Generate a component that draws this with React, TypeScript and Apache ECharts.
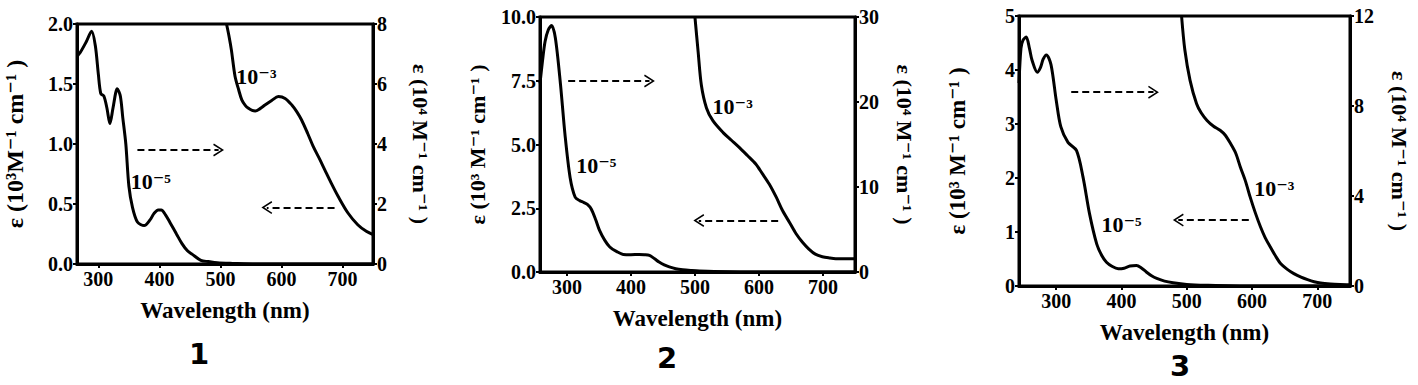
import React, { useEffect, useRef } from "react";
import * as echarts from "echarts";

// ---------- data ----------
const xTicks = [300, 400, 500, 600, 700];

// Panel 1
const wl1Low = [265, 270, 280, 289, 295, 300, 304, 309, 314, 319, 324, 331, 336, 340, 345, 350, 356, 364, 375, 385, 391, 398, 403, 410, 418, 428, 437, 446, 454, 468, 480, 495, 520, 560, 650, 750];
const eps1Low = [1.73, 1.76, 1.85, 1.94, 1.82, 1.58, 1.42, 1.40, 1.30, 1.17, 1.30, 1.46, 1.40, 1.22, 1.0, 0.65, 0.47, 0.35, 0.32, 0.37, 0.42, 0.45, 0.45, 0.41, 0.34, 0.25, 0.17, 0.11, 0.08, 0.03, 0.02, 0.01, 0.005, 0, 0, 0];
const wl1High = [510, 514, 518, 524, 530, 535, 541, 546, 552, 557, 565, 573, 584, 595, 606, 617, 625, 633, 643, 652, 662, 671, 682, 693, 709, 725, 739, 750];
const eps1High = [8, 7.6, 7.13, 6.25, 5.8, 5.47, 5.28, 5.19, 5.12, 5.1, 5.18, 5.3, 5.45, 5.58, 5.52, 5.3, 5.08, 4.8, 4.35, 3.92, 3.52, 3.14, 2.68, 2.25, 1.7, 1.31, 1.09, 0.98];

// Panel 2
const wl2Low = [258, 262, 266, 271, 276, 282, 290, 297, 305, 313, 320, 326, 332, 338, 345, 351, 359, 367, 378, 388, 400, 413, 421, 429, 437, 444, 452, 460, 470, 481, 495, 507, 530, 600, 750];
const eps2Low = [7.4, 8.3, 9.05, 9.5, 9.67, 9.18, 7.36, 5.4, 3.71, 2.93, 2.8, 2.73, 2.65, 2.47, 2.05, 1.63, 1.25, 0.98, 0.8, 0.69, 0.68, 0.69, 0.68, 0.65, 0.52, 0.39, 0.28, 0.2, 0.13, 0.09, 0.06, 0.04, 0.02, 0, 0];
const wl2High = [500, 505, 510, 518, 528, 544, 557, 570, 582, 595, 605, 616, 627, 637, 648, 658, 668, 678, 688, 699, 710, 720, 735, 750];
const eps2High = [30, 25.9, 22, 19.3, 17.8, 16.4, 15.5, 14.6, 13.7, 12.7, 11.6, 10.35, 8.8, 7.2, 5.8, 4.5, 3.5, 2.7, 2.1, 1.8, 1.65, 1.56, 1.55, 1.55];

// Panel 3
const wl3Low = [243, 246, 249, 254, 259, 263, 271, 276, 280, 285, 292, 300, 307, 318, 331, 341, 351, 362, 370, 377, 386, 395, 404, 413, 423, 430, 438, 446, 454, 466, 479, 500, 530, 600, 750];
const eps3Low = [3.76, 4.4, 4.55, 4.61, 4.4, 4.18, 3.96, 4.05, 4.2, 4.28, 4.1, 3.44, 2.95, 2.66, 2.51, 2.02, 1.34, 0.78, 0.56, 0.44, 0.36, 0.32, 0.33, 0.37, 0.38, 0.34, 0.26, 0.19, 0.14, 0.09, 0.06, 0.03, 0.015, 0, 0];
const wl3High = [492, 497, 505, 515, 522, 531, 541, 551, 559, 567, 575, 582, 590, 597, 605, 613, 620, 628, 636, 644, 654, 664, 675, 685, 695, 705, 720, 735, 750];
const eps3High = [12, 10.5, 9.14, 8.1, 7.7, 7.36, 7.1, 6.92, 6.7, 6.33, 5.9, 5.29, 4.65, 3.96, 3.25, 2.62, 2.15, 1.73, 1.33, 0.99, 0.74, 0.55, 0.39, 0.28, 0.19, 0.13, 0.09, 0.07, 0.06];

// Axis ranges / tick labels
const xMins = [265, 258, 243];
const leftMax = [2, 10, 5];
const leftStep = [0.5, 2.5, 1];
const leftDecimals = [1, 1, 0];
const rightMax = [8, 30, 12];
const rightStep = [2, 10, 4];

const leftTitles = ["ε (10³M⁻¹ cm⁻¹ )", "ε (10³ M⁻¹ cm⁻¹ )", "ε (10³ M⁻¹ cm⁻¹ )"];
const rightTitle = "ε (10⁴ M⁻¹ cm⁻¹ )";
const xTitle = "Wavelength (nm)";
const panelNumbers = ["1", "2", "3"];

// Annotations (data coordinates on the left axis)
const labelHigh = "10⁻³";
const labelLow = "10⁻⁵";
const highLabelPos = [[559, 1.56], [559, 6.5], [634, 1.8]];
const lowLabelPos = [[386, 0.69], [346, 4.17], [400, 1.14]];
const rightArrows = [[[364, 0.95], [497, 0.95]], [[302, 7.49], [429, 7.49]], [[323, 3.59], [449, 3.59]]];
const leftArrows = [[[687, 0.47], [576, 0.47]], [[630, 2.02], [506, 2.02]], [[595, 1.22], [487, 1.22]]];

// ---------- layout ----------
const grids = [
  { left: 77, top: 24, width: 296, height: 240 },
  { left: 540, top: 17, width: 315, height: 255 },
  { left: 1019, top: 16, width: 331, height: 270 },
];
const leftTitleSize = [24, 22, 23];
const leftTitleGap = [50, 52, 50];
const rightTitleGap = [36, 38, 38];
const numberPos = [[199, 354], [667, 358], [1180, 366]];

const SERIF = "'Liberation Serif', 'DejaVu Serif', serif";
const chevron = "path://M0,14 L9,0 L18,14 L16,15 L9,4 L2,15 Z";

const zip = (a: number[], b: number[]) => a.map((v, i) => [v, b[i]]);

export default function App() {
  const ref = useRef<HTMLDivElement>(null);
  useEffect(() => {
    if (!ref.current) return;
    const chart = echarts.init(ref.current, null, { renderer: "svg" });
    const lows = [zip(wl1Low, eps1Low), zip(wl2Low, eps2Low), zip(wl3Low, eps3Low)];
    const highs = [zip(wl1High, eps1High), zip(wl2High, eps2High), zip(wl3High, eps3High)];

    const axisLine = { show: true, onZero: false, lineStyle: { color: "#000", width: 3 } };
    const tickLabel = { color: "#000", fontFamily: SERIF, fontWeight: "bold" as const, fontSize: 20 };

    const xAxis: any[] = [];
    const yAxis: any[] = [];
    const series: any[] = [];
    for (let i = 0; i < 3; i++) {
      xAxis.push({
        type: "value",
        gridIndex: i,
        min: xMins[i],
        max: 750,
        axisLine,
        axisTick: { show: true, inside: false, length: 4, customValues: xTicks, lineStyle: { width: 2, color: "#000" } },
        axisLabel: { ...tickLabel, customValues: xTicks, margin: 5 },
        splitLine: { show: false },
        name: xTitle,
        nameLocation: "middle",
        nameGap: 35,
        nameTextStyle: { color: "#000", fontFamily: SERIF, fontWeight: "bold", fontSize: 23 },
      });
      yAxis.push({
        type: "value",
        gridIndex: i,
        position: "left",
        min: 0,
        max: leftMax[i],
        interval: leftStep[i],
        axisLine,
        axisTick: { show: true, length: 4, lineStyle: { width: 2, color: "#000" } },
        axisLabel: { ...tickLabel, margin: 4, formatter: (v: number) => v.toFixed(leftDecimals[i]) },
        splitLine: { show: false },
        name: leftTitles[i],
        nameLocation: "middle",
        nameRotate: 90,
        nameGap: leftTitleGap[i],
        nameTextStyle: { color: "#000", fontFamily: SERIF, fontWeight: "bold", fontSize: leftTitleSize[i] },
      });
      yAxis.push({
        type: "value",
        gridIndex: i,
        position: "right",
        min: 0,
        max: rightMax[i],
        interval: rightStep[i],
        axisLine,
        axisTick: { show: true, length: 4, lineStyle: { width: 2, color: "#000" } },
        axisLabel: { ...tickLabel, margin: 4 },
        splitLine: { show: false },
        name: rightTitle,
        nameLocation: "middle",
        nameRotate: -90,
        nameGap: rightTitleGap[i],
        nameTextStyle: { color: "#000", fontFamily: SERIF, fontWeight: "bold", fontSize: 22 },
      });

      const annLabel = {
        show: true,
        position: "inside",
        color: "#000",
        fontFamily: SERIF,
        fontWeight: "bold",
        fontSize: 22,
        formatter: (p: any) => p.name,
      };
      series.push({
        type: "line",
        xAxisIndex: i,
        yAxisIndex: 2 * i,
        data: lows[i],
        showSymbol: false,
        symbol: "none",
        smooth: 0.3,
        lineStyle: { color: "#000", width: 3 },
        silent: true,
        markPoint: {
          silent: true,
          symbol: "circle",
          symbolSize: 0,
          itemStyle: { color: "transparent" },
          label: annLabel,
          data: [
            { name: labelHigh, coord: highLabelPos[i] },
            { name: labelLow, coord: lowLabelPos[i] },
          ],
        },
        markLine: {
          silent: true,
          symbol: ["none", chevron],
          symbolSize: 13,
          symbolKeepAspect: true,
          label: { show: false },
          lineStyle: { color: "#000", width: 2, type: [7, 4] },
          data: [
            [{ coord: rightArrows[i][0] }, { coord: rightArrows[i][1] }],
            [{ coord: leftArrows[i][0] }, { coord: leftArrows[i][1] }],
          ],
        },
      });
      series.push({
        type: "line",
        xAxisIndex: i,
        yAxisIndex: 2 * i + 1,
        data: highs[i],
        showSymbol: false,
        symbol: "none",
        smooth: 0.3,
        lineStyle: { color: "#000", width: 3 },
        silent: true,
      });
    }

    chart.setOption({
      animation: false,
      backgroundColor: "#fff",
      grid: grids.map((g) => ({ ...g, show: true, borderColor: "#000", borderWidth: 3, backgroundColor: "transparent" })),
      xAxis,
      yAxis,
      series,
      graphic: panelNumbers.map((n, i) => ({
        type: "text",
        x: numberPos[i][0],
        y: numberPos[i][1],
        style: {
          text: n,
          fill: "#000",
          font: "bold 29px 'DejaVu Sans', sans-serif",
          textAlign: "center",
          textVerticalAlign: "middle",
        },
      })),
    });
    return () => chart.dispose();
  }, []);
  return <div ref={ref} style={{ position: "fixed", left: 0, top: 0, width: 1418, height: 385 }} />;
}
